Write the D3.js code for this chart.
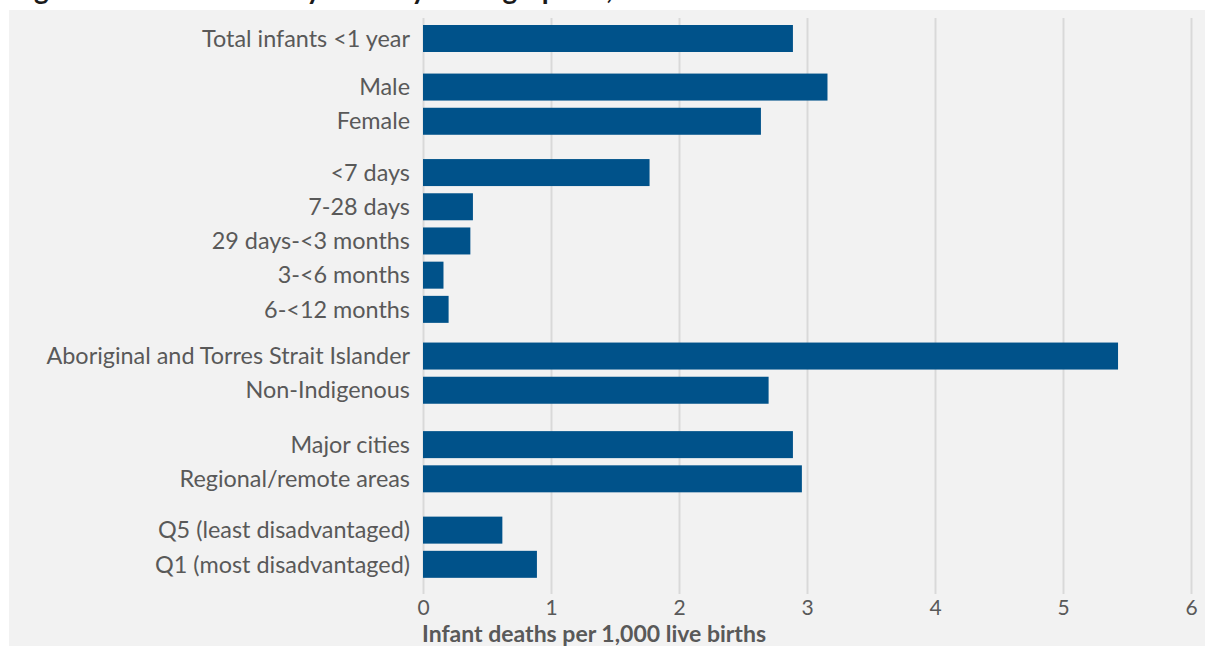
<!DOCTYPE html>
<html>
<head>
<meta charset="utf-8">
<script src="https://cdn.jsdelivr.net/npm/d3@7"></script>
<style>
  html, body { margin: 0; padding: 0; background: #ffffff; }
  svg { display: block; }
  text { font-family: Lato, "Noto Sans", sans-serif; }
</style>
</head>
<body>
<svg id="chart" width="1205" height="646"></svg>
<script>
// Infant deaths per 1,000 live births, by demographic group
const categories = [
  "Total infants <1 year",
  "Male", "Female",
  "<7 days", "7-28 days", "29 days-<3 months", "3-<6 months", "6-<12 months",
  "Aboriginal and Torres Strait Islander", "Non-Indigenous",
  "Major cities", "Regional/remote areas",
  "Q5 (least disadvantaged)", "Q1 (most disadvantaged)"
];
const values = [2.89, 3.16, 2.64, 1.77, 0.39, 0.37, 0.16, 0.20, 5.43, 2.70, 2.89, 2.96, 0.62, 0.89];
// which block each row belongs to
const groups = [0, 1, 1, 2, 2, 2, 2, 2, 3, 3, 4, 4, 5, 5];
const tickValues = [0, 1, 2, 3, 4, 5, 6];
const titleText = "Figure 1: Infant mortality rates by demographics, 2019\u20132021";
const axisTitle = "Infant deaths per 1,000 live births";

const W = 1205, H = 646;
const svg = d3.select("#chart");

// panel background
svg.append("rect")
  .attr("x", 9).attr("y", 10)
  .attr("width", W - 9).attr("height", H - 10)
  .attr("fill", "#f2f2f2");

// title sits above the panel, mostly outside the frame
svg.append("text")
  .attr("x", 11).attr("y", -1.5)
  .attr("font-size", 28).attr("font-weight", 700)
  .attr("fill", "#1a1a1a")
  .text(titleText);

// extra space before each block, in row steps
const blockGap = [0, 0.42, 0.5, 0.365, 0.59, 0.5];
const rowPos = [];
{
  let p = 0;
  categories.forEach((c, i) => {
    if (i > 0) p += 1 + (groups[i] !== groups[i - 1] ? blockGap[groups[i]] : 0);
    rowPos.push(p);
  });
}
const maxPos = d3.max(rowPos);
const rowStep = 34.2;

const x = d3.scaleLinear().domain([0, 6]).range([423, 1191]);
const y = d3.scaleLinear().domain([0, maxPos]).range([38.5, 38.5 + rowStep * maxPos]);
const barH = 27;

const gridTop = 18, gridBottom = 594;

// vertical gridlines
const grid = svg.append("g")
  .attr("transform", `translate(0,${gridBottom})`)
  .call(d3.axisBottom(x).tickValues(tickValues).tickSize(-(gridBottom - gridTop)).tickFormat(""));
grid.select(".domain").remove();
grid.selectAll(".tick line").attr("stroke", "#d9d9d9").attr("stroke-width", 2);

// tick labels
const axis = svg.append("g")
  .attr("transform", `translate(0,${gridBottom})`)
  .call(d3.axisBottom(x).tickValues(tickValues).tickSize(0).tickPadding(6).tickFormat(d3.format("d")));
axis.select(".domain").remove();
axis.selectAll(".tick text")
  .attr("font-size", 21)
  .attr("font-family", "Lato, 'Noto Sans', sans-serif")
  .attr("fill", "#595959");

// bars
svg.append("g").selectAll("rect")
  .data(values)
  .join("rect")
  .attr("x", x(0))
  .attr("y", (d, i) => y(rowPos[i]) - barH / 2)
  .attr("width", d => x(d) - x(0))
  .attr("height", barH)
  .attr("fill", "#00528a");

// category labels
svg.append("g").selectAll("text")
  .data(categories)
  .join("text")
  .attr("x", 410)
  .attr("y", (d, i) => y(rowPos[i]))
  .attr("dy", "0.35em")
  .attr("text-anchor", "end")
  .attr("font-size", 23.4)
  .attr("fill", "#595959")
  .text(d => d);

// x-axis title
svg.append("text")
  .attr("x", 422).attr("y", 642)
  .attr("font-size", 23).attr("font-weight", 700)
  .attr("fill", "#595959")
  .text(axisTitle);
</script>
</body>
</html>
